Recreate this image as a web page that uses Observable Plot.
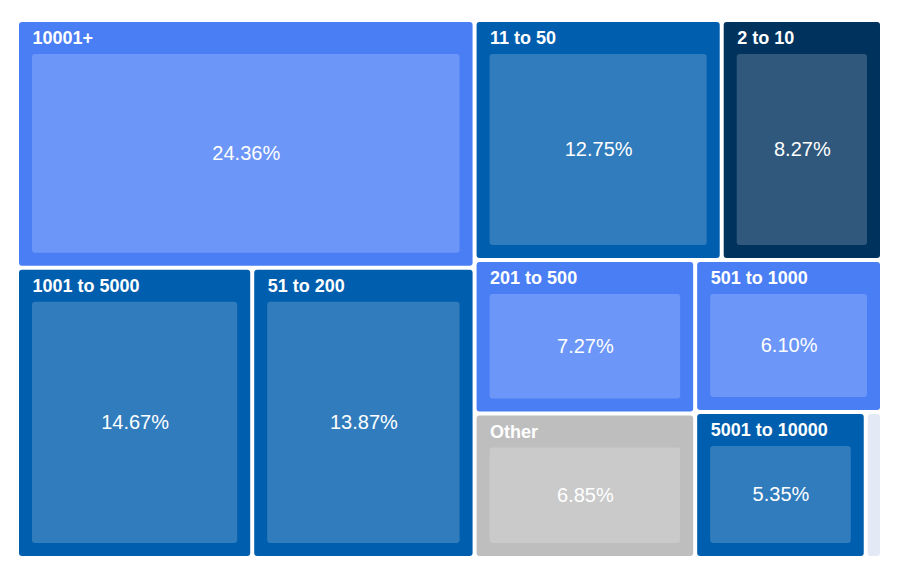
<!DOCTYPE html>
<html>
<head>
<meta charset="utf-8">
<script src="https://cdn.jsdelivr.net/npm/d3@7"></script>
<script src="https://cdn.jsdelivr.net/npm/@observablehq/plot@0.6"></script>
<style>
  html, body { margin: 0; padding: 0; background: #fff; }
  #chart { width: 900px; height: 576px; }
</style>
</head>
<body>
<div id="chart"></div>
<script>
// Company size categories (in layout order) and their shares (%)
const categories = ["10001+", "1001 to 5000", "51 to 200", "11 to 50", "2 to 10", "201 to 500", "Other", "501 to 1000", "5001 to 10000", "Just me"];
const shares = [24.36, 14.67, 13.87, 12.75, 8.27, 7.27, 6.85, 6.10, 5.35, 0.51];
const colors = ["#4a7ef5", "#005eae", "#005eae", "#005eae", "#00325e", "#4a7ef5", "#bebebe", "#4a7ef5", "#005eae", "#e3eaf5"];

const W = 861, H = 534;
const root = d3.hierarchy({children: categories.map((name, i) => ({name, value: shares[i], color: colors[i]}))})
  .sum(d => d.value || 0);
d3.treemap().tile(d3.treemapBinary).size([W, H]).paddingInner(4).round(false)(root);
const leaves = root.leaves().map(l => ({
  name: l.data.name, value: l.data.value, color: l.data.color,
  x0: l.x0, x1: l.x1, y0: l.y0, y1: l.y1
}));
const big = leaves.filter(d => d.value > 2);

const chart = Plot.plot({
  width: 900,
  height: 576,
  marginLeft: 19, marginRight: 20, marginTop: 22, marginBottom: 20,
  x: {domain: [0, W], range: [19, 880], axis: null},
  y: {domain: [0, H], range: [22, 556], axis: null},
  style: {fontFamily: "'Liberation Sans', Arial, Helvetica, sans-serif", background: "white"},
  marks: [
    Plot.rect(leaves, {x1: "x0", x2: "x1", y1: "y0", y2: "y1", fill: "color", rx: 3}),
    Plot.rect(big, {x1: "x0", x2: "x1", y1: "y0", y2: "y1", fill: "white", fillOpacity: 0.19, rx: 3,
      insetLeft: 13, insetRight: 13, insetTop: 32, insetBottom: 13}),
    Plot.text(big, {x: "x0", y: "y0", text: "name", dx: 13, dy: 16, textAnchor: "start", lineAnchor: "middle",
      fill: "white", fontWeight: "bold", fontSize: 18}),
    Plot.text(big, {x: d => (d.x0 + d.x1) / 2, y: d => (d.y0 + d.y1) / 2, text: d => d.value.toFixed(2) + "%",
      dy: 9.5, lineAnchor: "middle", fill: "white", fontSize: 20})
  ]
});
document.getElementById("chart").appendChild(chart);
</script>
</body>
</html>
